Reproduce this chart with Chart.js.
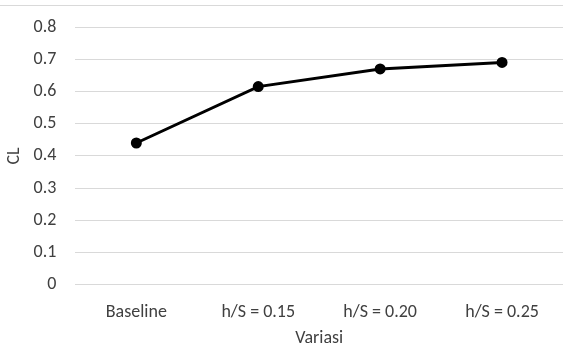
<!DOCTYPE html>
<html>
<head>
<meta charset="utf-8">
<script src="https://cdn.jsdelivr.net/npm/chart.js@4/dist/chart.umd.min.js"></script>
<style>
  html, body { margin: 0; padding: 0; background: #fff; }
  #wrap { position: relative; width: 563px; height: 351px; }
  #frame { position: absolute; left: 0; right: 0; top: 5px; border-top: 1px solid #d9d9d9; }
  canvas { display: block; }
</style>
</head>
<body>
<div id="wrap">
  <div id="frame"></div>
  <canvas id="c" width="563" height="351"></canvas>
</div>
<script>
// Lift coefficient for each configuration
const categories = ['Baseline', 'h/S = 0.15', 'h/S = 0.20', 'h/S = 0.25'];
const clValues = [0.44, 0.615, 0.67, 0.69];
const yTicks = [0, 0.1, 0.2, 0.3, 0.4, 0.5, 0.6, 0.7, 0.8];

const font = "Calibri, Carlito, 'Liberation Sans', 'Open Sans', sans-serif";
Chart.defaults.font.family = font;
Chart.defaults.color = '#404040';

new Chart(document.getElementById('c'), {
  type: 'line',
  data: {
    labels: categories,
    datasets: [{
      label: 'CL',
      data: clValues,
      borderColor: '#000',
      backgroundColor: '#000',
      borderWidth: 3,
      pointRadius: 4,
      pointHoverRadius: 4,
      tension: 0
    }]
  },
  options: {
    responsive: false,
    animation: false,
    layout: { autoPadding: false, padding: { top: 27, right: 0, left: 4, bottom: 2 } },
    plugins: { legend: { display: false }, tooltip: { enabled: false } },
    scales: {
      x: {
        offset: true,
        // the plot runs to the right edge of the canvas
        afterFit: (scale) => { scale.paddingLeft = 0; scale.paddingRight = 0; },
        grid: { display: false, drawTicks: true, tickLength: 14, tickColor: 'rgba(0,0,0,0)' },
        border: { display: false },
        ticks: { font: { size: 18 }, padding: 3, maxRotation: 0 },
        title: { display: true, text: 'Variasi', font: { size: 18 }, padding: { top: 1, bottom: 0 } }
      },
      y: {
        min: 0,
        max: 0.8,
        afterBuildTicks: (axis) => { axis.ticks = yTicks.map(v => ({ value: v })); },
        grid: { color: '#d9d9d9', drawTicks: true, tickLength: 15, tickColor: 'rgba(0,0,0,0)' },
        border: { display: false },
        ticks: { font: { size: 18 }, padding: 4, callback: (v) => String(v) },
        title: { display: true, text: 'CL', font: { size: 18 }, padding: { top: 0, bottom: 4 } }
      }
    }
  }
});
</script>
</body>
</html>
